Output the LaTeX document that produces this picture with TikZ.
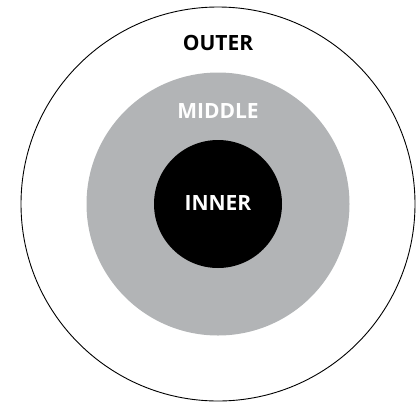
\documentclass[tikz,border=0pt]{standalone}
\usepackage{fontspec}
\setmainfont{Open Sans}
\usetikzlibrary{positioning}
\definecolor{ringgray}{HTML}{B2B4B6}
\tikzset{
  ringlabel/.style={font=\fontsize{21}{25}\selectfont\bfseries, inner sep=0pt}
}

\begin{document}
\begin{tikzpicture}[x=1pt,y=-1pt]
\useasboundingbox (0,0) rectangle (420,402);

% Outer ring
\node[circle, draw=black, line width=0.9pt, minimum size=394pt, inner sep=0pt] (outer) at (218,204) {};
\node[ringlabel, text=black] (outerlabel) at (218,43) {OUTER};

% Middle disc
\node[circle, fill=ringgray, minimum size=263pt, inner sep=0pt] (middle) at (218,204) {};
\node[ringlabel, text=white] (middlelabel) at (218,111) {MIDDLE};

% Inner disc
\node[circle, fill=black, minimum size=128pt, inner sep=0pt] (inner) at (218,204) {};
\node[ringlabel, text=white] (innerlabel) at (218,203) {INNER};
\end{tikzpicture}
\end{document}
